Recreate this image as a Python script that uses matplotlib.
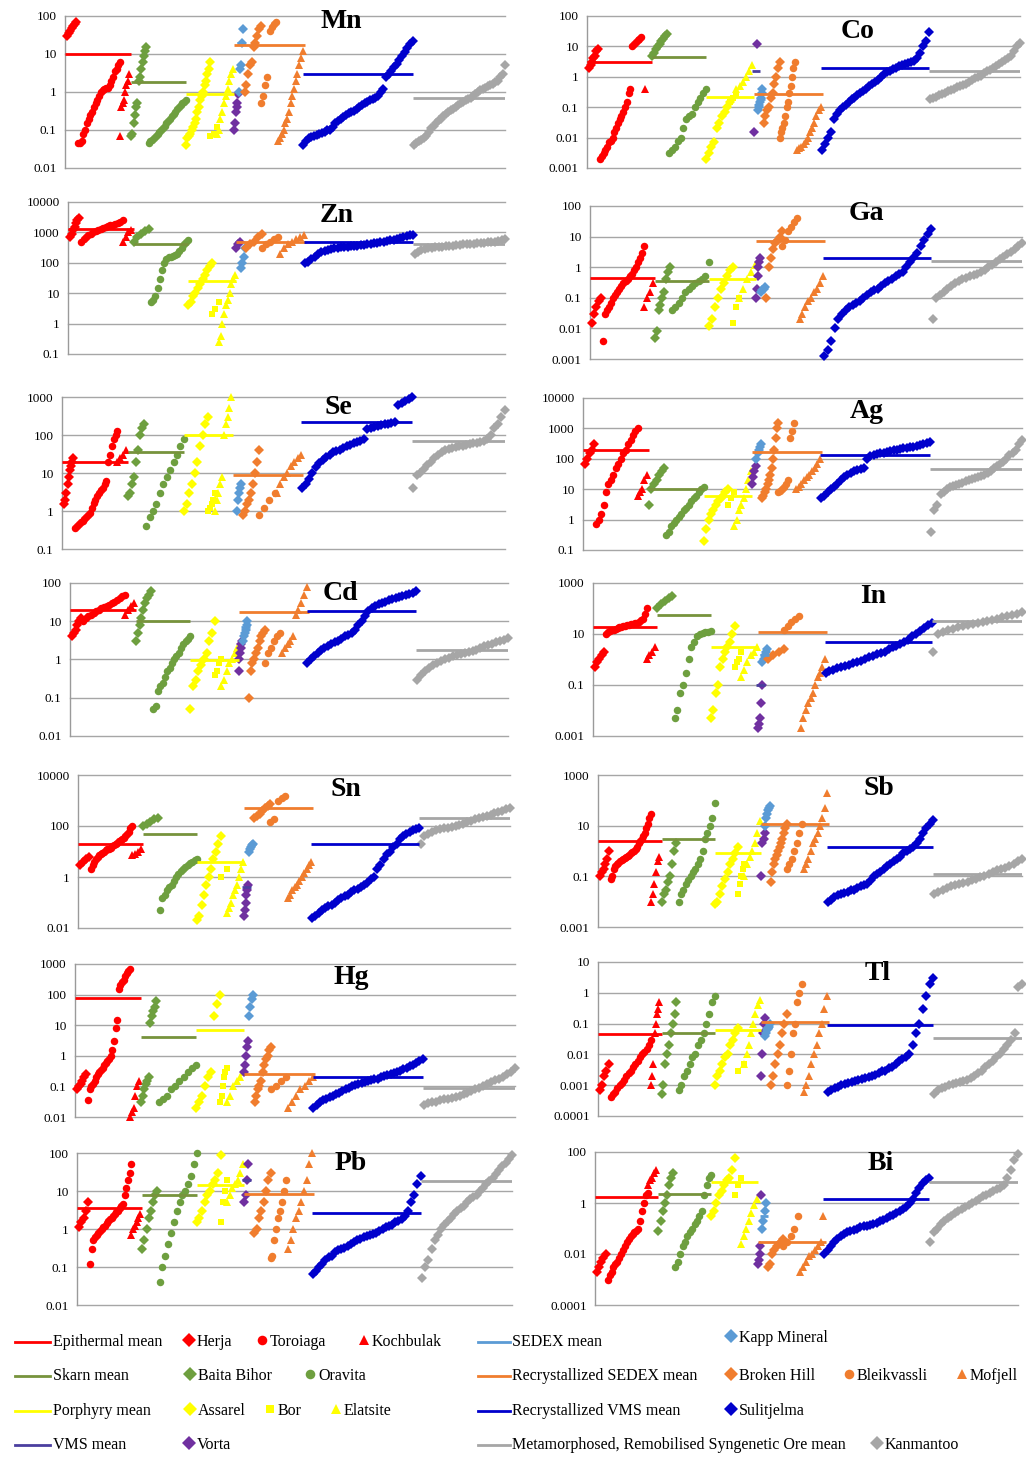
import numpy as np
import matplotlib.pyplot as plt

plt.rcParams['font.family'] = ['Liberation Serif', 'DejaVu Serif']

W, H = 1026, 1458

# deposits in plotting order, each sorted ascending inside its own x-span
deposits = ['Herja', 'Toroiaga', 'Kochbulak', 'Baita Bihor', 'Oravita',
            'Assarel', 'Bor', 'Elatsite', 'Vorta', 'Kapp Mineral',
            'Broken Hill', 'Bleikvassli', 'Mofjell', 'Sulitjelma', 'Kanmantoo']

groups = ['Epithermal mean', 'Skarn mean', 'Porphyry mean', 'VMS mean', 'SEDEX mean',
          'Recrystallized SEDEX mean', 'Recrystallized VMS mean',
          'Metamorphosed, Remobilised Syngenetic Ore mean']

# ---------------- values per element ----------------
mn = {
    'Herja': [30, 35, 40, 48, 55, 62, 70],
    'Toroiaga': [0.045, 0.045, 0.05, 0.08, 0.1, 0.15, 0.2, 0.25, 0.3, 0.4, 0.5, 0.6, 0.8, 1.0,
                 1.1, 1.2, 1.3, 1.3, 1.5, 2, 2.5, 3.5, 4, 5, 6],
    'Kochbulak': [0.07, 0.4, 0.5, 0.6, 1, 1.5, 2, 3],
    'Baita Bihor': [0.07, 0.08, 0.15, 0.25, 0.4, 0.5, 2, 2.5, 4, 6, 9, 12, 15],
    'Oravita': [0.045, 0.05, 0.055, 0.06, 0.07, 0.08, 0.09, 0.1, 0.11, 0.13, 0.15, 0.17, 0.2,
                0.23, 0.26, 0.3, 0.35, 0.4, 0.45, 0.5, 0.55, 0.6],
    'Assarel': [0.04, 0.06, 0.07, 0.08, 0.1, 0.12, 0.15, 0.2, 0.3, 0.4, 0.6, 0.8, 1, 1.5, 2, 3, 4, 6],
    'Bor': [0.07, 0.08, 0.12],
    'Elatsite': [0.08, 0.1, 0.2, 0.3, 0.5, 0.8, 1.2, 2, 3, 4],
    'Vorta': [0.1, 0.15, 0.3, 0.4, 0.5, 0.9],
    'Kapp Mineral': [1, 4, 5, 20, 45],
    'Broken Hill': [1.0, 1.5, 3, 5, 6, 15, 20, 30, 45, 55],
    'Bleikvassli': [0.5, 0.8, 1.5, 2.5, 40, 50, 60, 70],
    'Mofjell': [0.05, 0.06, 0.08, 0.1, 0.15, 0.2, 0.3, 0.5, 0.8, 1.2, 2, 3, 5, 8, 12],
    'Sulitjelma': [0.04, 0.05, 0.06, 0.065, 0.07, 0.075, 0.08, 0.085, 0.09, 0.1, 0.1, 0.12, 0.15,
                   0.17, 0.2, 0.22, 0.25, 0.28, 0.3, 0.32, 0.35, 0.4, 0.45, 0.5, 0.55, 0.6, 0.65,
                   0.7, 0.8, 1.0, 1.2, 2.5, 3, 3.5, 4.5, 5.5, 7, 9, 11, 14, 18, 22],
    'Kanmantoo': [0.04, 0.045, 0.05, 0.055, 0.06, 0.07, 0.09, 0.11, 0.13, 0.15, 0.18, 0.2, 0.23,
                  0.26, 0.3, 0.33, 0.36, 0.4, 0.45, 0.5, 0.55, 0.6, 0.65, 0.7, 0.8, 0.9, 1.0, 1.1,
                  1.2, 1.3, 1.4, 1.5, 1.6, 1.8, 2, 2.5, 3, 5],
}
mn_means = [10, 1.8, 0.9, None, 20, 17, 3, 0.7]

co = {
    'Herja': [2, 2.5, 3, 4, 5, 7, 8],
    'Toroiaga': [0.002, 0.0025, 0.003, 0.004, 0.005, 0.007, 0.008, 0.01, 0.015, 0.02, 0.03, 0.04,
                 0.05, 0.07, 0.1, 0.15, 0.3, 0.4, 10, 12, 14, 16, 18, 20],
    'Kochbulak': [0.4],
    'Baita Bihor': [5, 6, 8, 10, 12, 15, 18, 22, 25],
    'Oravita': [0.003, 0.004, 0.005, 0.008, 0.01, 0.02, 0.04, 0.05, 0.06, 0.1, 0.15, 0.2, 0.3, 0.4],
    'Assarel': [0.002, 0.003, 0.005, 0.007, 0.02, 0.03, 0.05, 0.07, 0.1, 0.15],
    'Bor': [0.15, 0.2, 0.25],
    'Elatsite': [0.4, 0.5, 0.7, 1, 1.5, 2.5],
    'Vorta': [0.015, 12],
    'Kapp Mineral': [0.08, 0.1, 0.12, 0.15, 0.2, 0.3, 0.4],
    'Broken Hill': [0.03, 0.05, 0.08, 0.1, 0.2, 0.3, 0.6, 1, 2, 3],
    'Bleikvassli': [0.01, 0.015, 0.02, 0.03, 0.05, 0.1, 0.15, 0.3, 0.5, 1, 2, 3],
    'Mofjell': [0.004, 0.0045, 0.005, 0.006, 0.008, 0.01, 0.015, 0.02, 0.03, 0.05, 0.08, 0.1],
    'Sulitjelma': [0.004, 0.006, 0.01, 0.015, 0.04, 0.06, 0.08, 0.1, 0.12, 0.15, 0.18, 0.2, 0.25,
                   0.3, 0.35, 0.4, 0.5, 0.6, 0.7, 0.8, 1.0, 1.2, 1.4, 1.6, 1.8, 2.0, 2.2, 2.4,
                   2.6, 2.8, 3.0, 3.2, 4, 6, 10, 15, 30],
    'Kanmantoo': [0.18, 0.2, 0.22, 0.25, 0.28, 0.3, 0.33, 0.37, 0.4, 0.45, 0.5, 0.55, 0.6, 0.7,
                  0.8, 0.9, 1.0, 1.1, 1.3, 1.5, 1.7, 2, 2.3, 2.7, 3, 3.5, 4, 5, 7, 10, 13],
}
co_means = [3, 4.5, 0.22, 1.5, 0.18, 0.28, 2, 1.5]

zn = {
    'Herja': [700, 900, 1200, 1500, 2000, 2500, 3000],
    'Toroiaga': [500, 600, 700, 800, 900, 1000, 1100, 1200, 1300, 1400, 1500, 1600, 1700, 1800,
                 1900, 2000, 2200, 2500],
    'Kochbulak': [500, 700, 1000, 1200],
    'Baita Bihor': [500, 700, 900, 1100, 1300],
    'Oravita': [5, 6, 8, 15, 30, 60, 100, 130, 150, 160, 170, 180, 200, 250, 300, 400, 500, 550],
    'Assarel': [4, 5, 8, 10, 15, 20, 30, 40, 60, 80, 100],
    'Bor': [2, 3, 5],
    'Elatsite': [0.25, 0.4, 1, 2, 4, 6, 10, 20, 30, 40],
    'Vorta': [300, 400, 500],
    'Kapp Mineral': [70, 100, 150, 300],
    'Broken Hill': [300, 400, 500, 700, 900],
    'Bleikvassli': [300, 400, 500, 600, 700],
    'Mofjell': [200, 300, 400, 500, 600, 700, 800],
    'Sulitjelma': [100, 110, 130, 150, 200, 230, 250, 270, 280, 300, 310, 320, 330, 340, 350, 360,
                   370, 380, 390, 400, 420, 440, 460, 480, 500, 520, 550, 580, 600, 650, 700,
                   750, 800, 850],
    'Kanmantoo': [200, 230, 260, 280, 300, 310, 320, 330, 340, 350, 360, 370, 380, 390, 400, 410,
                  420, 430, 440, 450, 460, 470, 480, 500, 520, 550, 600],
}
zn_means = [1300, 400, 25, None, None, 500, 500, 420]

ga = {
    'Herja': [0.015, 0.03, 0.05, 0.08, 0.1],
    'Toroiaga': [0.004, 0.03, 0.04, 0.05, 0.07, 0.1, 0.12, 0.15, 0.2, 0.25, 0.3, 0.35, 0.4, 0.5,
                 0.6, 0.8, 1, 1.5, 2, 3, 5],
    'Kochbulak': [0.05, 0.1, 0.15, 0.3],
    'Baita Bihor': [0.005, 0.008, 0.04, 0.06, 0.1, 0.15, 0.4, 0.7, 1.0],
    'Oravita': [0.04, 0.05, 0.07, 0.1, 0.15, 0.2, 0.25, 0.3, 0.35, 0.4, 0.5, 1.5],
    'Assarel': [0.012, 0.02, 0.05, 0.1, 0.2, 0.3, 0.5, 0.8, 1],
    'Bor': [0.015, 0.05, 0.1],
    'Elatsite': [0.1, 0.2, 0.4, 0.7, 1.2],
    'Vorta': [0.1, 0.2, 0.5, 1, 1.5, 2],
    'Kapp Mineral': [0.15, 0.18, 0.2, 0.22],
    'Broken Hill': [0.1, 1, 2, 4, 6, 8, 10, 15],
    'Bleikvassli': [5, 8, 15, 20, 30, 40],
    'Mofjell': [0.02, 0.03, 0.05, 0.08, 0.1, 0.15, 0.2, 0.3, 0.5],
    'Sulitjelma': [0.0013, 0.002, 0.004, 0.01, 0.02, 0.03, 0.04, 0.05, 0.06, 0.07, 0.08, 0.1, 0.12,
                   0.15, 0.18, 0.2, 0.25, 0.3, 0.35, 0.4, 0.5, 0.6, 0.7, 1, 1.5, 2, 3, 5, 8, 12, 18],
    'Kanmantoo': [0.02, 0.1, 0.12, 0.15, 0.2, 0.25, 0.3, 0.35, 0.4, 0.45, 0.5, 0.55, 0.6, 0.7, 0.8,
                  1.0, 1.2, 1.5, 1.8, 2.2, 2.7, 3.2, 4, 5, 6],
}
ga_means = [0.45, 0.35, 0.42, None, None, 7, 2, 1.6]

se = {
    'Herja': [1.5, 2, 3, 5, 8, 12, 15, 20, 25],
    'Toroiaga': [0.35, 0.4, 0.45, 0.5, 0.55, 0.6, 0.7, 0.8, 0.9, 1.2, 1.6, 2, 2.5, 3, 3.5, 4, 5, 6,
                 20, 30, 50, 80, 100, 130],
    'Kochbulak': [20, 25, 30, 40],
    'Baita Bihor': [2.5, 3, 5, 8, 20, 40, 100, 150, 200],
    'Oravita': [0.4, 0.7, 1, 1.5, 3, 5, 8, 12, 20, 30, 50, 80],
    'Assarel': [1, 1.5, 3, 5, 10, 20, 50, 100, 200, 300],
    'Bor': [1, 1.2, 1.5, 2, 3],
    'Elatsite': [1, 2, 3, 5, 8, 100, 200, 300, 500, 1000],
    'Vorta': [],
    'Kapp Mineral': [1, 2, 3, 4, 5],
    'Broken Hill': [0.8, 1, 1.5, 2, 3, 5, 10, 20, 40],
    'Bleikvassli': [0.8, 1.2, 2, 3],
    'Mofjell': [3, 5, 8, 10, 15, 20, 25, 30],
    'Sulitjelma': [4, 5, 7, 10, 14, 18, 22, 26, 30, 35, 38, 40, 45, 50, 55, 60, 65, 70, 80, 140,
                   150, 160, 170, 180, 190, 200, 210, 220, 600, 700, 800, 900, 1000],
    'Kanmantoo': [4, 9, 10, 13, 16, 20, 25, 30, 35, 40, 42, 45, 48, 50, 52, 55, 58, 60, 62, 65, 70,
                  80, 100, 150, 200, 300, 450],
}
se_means = [20, 35, 100, None, None, 9, 220, 70]

ag = {
    'Herja': [70, 100, 150, 200, 300],
    'Toroiaga': [0.7, 1, 1.5, 3, 8, 15, 20, 30, 50, 70, 100, 150, 200, 300, 400, 600, 800, 1000],
    'Kochbulak': [6, 8, 10, 20, 30],
    'Baita Bihor': [3, 10, 15, 20, 30, 40, 50],
    'Oravita': [0.3, 0.4, 0.6, 0.8, 1, 1.2, 1.5, 2, 2.5, 3, 4, 5, 6, 8, 10, 12],
    'Assarel': [0.2, 0.5, 1, 1.5, 2, 3, 4, 5, 6, 8, 10],
    'Bor': [3, 5, 8],
    'Elatsite': [0.6, 1, 2, 3, 5, 10, 20, 40],
    'Vorta': [15, 25, 40, 60],
    'Kapp Mineral': [100, 150, 200, 250, 300],
    'Broken Hill': [5, 6, 8, 10, 15, 20, 30, 50, 100, 200, 500, 1000, 1500],
    'Bleikvassli': [8, 9, 10, 12, 15, 20, 500, 800, 1500],
    'Mofjell': [10, 12, 15, 20, 25, 30, 40, 50, 70, 100],
    'Sulitjelma': [5, 6, 8, 10, 12, 15, 20, 25, 30, 35, 40, 42, 45, 50, 100, 120, 130, 140, 150,
                   160, 170, 180, 190, 200, 210, 220, 230, 240, 250, 260, 280, 300, 320, 350],
    'Kanmantoo': [0.4, 2, 3, 7, 8, 10, 12, 13, 14, 15, 16, 18, 20, 22, 24, 26, 28, 30, 35, 40, 50,
                  60, 70, 80, 100, 130, 160, 200, 300, 400],
}
ag_means = [200, 10, 6, None, None, 170, 130, 45]

cd = {
    'Herja': [4, 5, 6, 8, 10, 12],
    'Toroiaga': [10, 12, 14, 15, 16, 18, 20, 22, 24, 25, 27, 30, 32, 35, 40, 45, 50],
    'Kochbulak': [15, 20, 25, 30],
    'Baita Bihor': [3, 5, 8, 12, 20, 30, 40, 50, 60],
    'Oravita': [0.05, 0.06, 0.15, 0.2, 0.25, 0.35, 0.5, 0.6, 0.8, 1, 1.2, 1.5, 2, 2.5, 3, 3.5, 4],
    'Assarel': [0.05, 0.2, 0.3, 0.5, 0.7, 1, 1.5, 3, 5, 10],
    'Bor': [0.4, 0.5, 0.8, 1],
    'Elatsite': [0.2, 0.3, 0.5, 0.8, 1, 1.5, 2],
    'Vorta': [0.5, 1, 1.5, 2, 2.5, 3],
    'Kapp Mineral': [3, 4, 5, 6, 8, 10],
    'Broken Hill': [0.1, 0.5, 0.8, 1, 1.5, 2, 3, 4, 5, 6],
    'Bleikvassli': [0.8, 1.5, 2, 3, 4, 5],
    'Mofjell': [1.5, 2, 2.5, 3, 4, 15, 20, 30, 50, 80],
    'Sulitjelma': [0.8, 1, 1.2, 1.5, 1.8, 2, 2.2, 2.5, 2.8, 3, 3.5, 4, 4.5, 5, 6, 8, 10, 14, 18,
                   22, 25, 28, 30, 32, 35, 38, 40, 42, 45, 48, 52, 56, 60],
    'Kanmantoo': [0.3, 0.4, 0.5, 0.6, 0.7, 0.8, 0.9, 1.0, 1.1, 1.2, 1.3, 1.4, 1.5, 1.6, 1.7, 1.8,
                  2, 2.2, 2.4, 2.6, 2.8, 3, 3.3, 3.6],
}
cd_means = [20, 10, 0.95, None, 7, 17, 18, 1.8]

in_ = {
    'Herja': [0.5, 0.8, 1, 1.5, 2],
    'Toroiaga': [10, 12, 13, 14, 15, 16, 17, 18, 19, 20, 21, 22, 23, 24, 25, 26, 28, 30, 35, 40,
                 60, 100],
    'Kochbulak': [1, 1.5, 2, 3],
    'Baita Bihor': [100, 150, 200, 250, 300],
    'Oravita': [0.005, 0.01, 0.05, 0.1, 0.3, 1, 3, 5, 8, 10, 11, 12, 12.5, 13],
    'Assarel': [0.005, 0.01, 0.05, 0.1, 0.5, 1, 2, 3, 5, 10, 20],
    'Bor': [0.5, 0.8, 1, 2],
    'Elatsite': [0.2, 0.4, 0.8, 1.5, 2, 3],
    'Vorta': [0.002, 0.003, 0.005, 0.02, 0.1],
    'Kapp Mineral': [0.8, 1, 1.5, 2, 2.5],
    'Broken Hill': [1, 1.5, 2, 2.5],
    'Bleikvassli': [15, 20, 30, 40, 50],
    'Mofjell': [0.002, 0.005, 0.01, 0.02, 0.03, 0.05, 0.1, 0.2, 0.3, 0.5, 1],
    'Sulitjelma': [0.3, 0.35, 0.4, 0.45, 0.5, 0.55, 0.6, 0.7, 0.8, 0.9, 1, 1.2, 1.4, 1.6, 1.8, 2,
                   2.5, 3, 3.5, 4, 5, 6, 8, 10, 13, 17, 22, 28],
    'Kanmantoo': [2, 10, 12, 14, 16, 18, 20, 22, 25, 28, 30, 33, 36, 40, 45, 50, 55, 60, 70],
}
in_means = [19, 55, 3, 0.1, 1.5, 12, 5, 32]

sn = {
    'Herja': [3, 4, 5, 6],
    'Toroiaga': [2, 3, 4, 5, 6, 7, 8, 9, 10, 11, 12, 13, 14, 16, 18, 20, 22, 25, 28, 30, 35, 40,
                 50, 60, 80, 100],
    'Kochbulak': [7, 8, 10, 12],
    'Baita Bihor': [100, 120, 150, 180, 200],
    'Oravita': [0.05, 0.15, 0.2, 0.3, 0.4, 0.5, 0.7, 1, 1.3, 1.7, 2, 2.5, 3, 3.5, 4, 4.5, 5],
    'Assarel': [0.02, 0.03, 0.08, 0.2, 0.5, 1, 2, 5, 10, 20, 40],
    'Bor': [1, 2],
    'Elatsite': [0.04, 0.06, 0.1, 0.2, 0.3, 0.5, 1, 2, 4],
    'Vorta': [0.03, 0.05, 0.1, 0.2, 0.3, 0.5],
    'Kapp Mineral': [10, 12, 15, 18, 20],
    'Broken Hill': [200, 250, 300, 400, 500, 600, 700],
    'Bleikvassli': [150, 180, 1000, 1200, 1500],
    'Mofjell': [0.15, 0.2, 0.3, 0.4, 0.5, 0.7, 1, 1.5, 2, 3, 4],
    'Sulitjelma': [0.025, 0.03, 0.04, 0.05, 0.06, 0.07, 0.08, 0.1, 0.12, 0.15, 0.18, 0.2, 0.25,
                   0.3, 0.35, 0.4, 0.5, 0.6, 0.8, 1, 2, 3, 5, 8, 10, 15, 20, 30, 40, 50, 60, 70,
                   75, 80],
    'Kanmantoo': [20, 40, 50, 60, 70, 75, 80, 85, 90, 100, 110, 120, 140, 160, 180, 200, 220, 250,
                  280, 320, 360, 400, 450, 500],
}
sn_means = [20, 50, 4, 0.4, None, 500, 20, 200]

sb = {
    'Herja': [0.1, 0.15, 0.2, 0.3, 0.5, 1],
    'Toroiaga': [0.08, 0.1, 0.2, 0.25, 0.3, 0.35, 0.4, 0.45, 0.5, 0.55, 0.6, 0.65, 0.7, 0.8, 0.9,
                 1, 1.2, 1.5, 2, 2.5, 3, 4, 5, 8, 12, 20, 30],
    'Kochbulak': [0.01, 0.02, 0.05, 0.15, 0.4, 0.6],
    'Baita Bihor': [0.01, 0.02, 0.03, 0.06, 0.1, 0.3, 1, 2],
    'Oravita': [0.01, 0.02, 0.03, 0.05, 0.07, 0.1, 0.15, 0.2, 0.3, 0.5, 1, 3, 5, 10, 20, 80],
    'Assarel': [0.008, 0.01, 0.02, 0.04, 0.08, 0.15, 0.3, 0.5, 0.8, 1.5],
    'Bor': [0.02, 0.05, 0.1, 0.2, 0.3],
    'Elatsite': [0.1, 0.3, 0.6, 1, 2, 5, 15],
    'Vorta': [0.1, 2, 3, 5],
    'Kapp Mineral': [10, 20, 30, 40, 50, 60],
    'Broken Hill': [0.06, 0.15, 0.3, 0.5, 0.7, 1, 1.5, 2, 3, 5, 8, 12],
    'Bleikvassli': [0.2, 0.3, 0.5, 1, 2, 5, 12],
    'Mofjell': [0.2, 0.3, 0.5, 1, 2, 3, 5, 10, 20, 50, 200],
    'Sulitjelma': [0.01, 0.012, 0.015, 0.018, 0.02, 0.022, 0.025, 0.028, 0.03, 0.035, 0.04, 0.045,
                   0.05, 0.07, 0.1, 0.12, 0.15, 0.2, 0.25, 0.3, 0.4, 0.5, 0.6, 0.8, 1, 1.2, 1.5,
                   2, 3, 5, 8, 12, 16],
    'Kanmantoo': [0.02, 0.025, 0.03, 0.035, 0.04, 0.045, 0.05, 0.055, 0.06, 0.07, 0.08, 0.09, 0.1,
                  0.12, 0.15, 0.17, 0.2, 0.22, 0.25, 0.3, 0.4, 0.5],
}
sb_means = [2.5, 3, 0.8, None, None, 12, 1.4, 0.12]

hg = {
    'Herja': [0.08, 0.1, 0.12, 0.15, 0.2, 0.25],
    'Toroiaga': [0.035, 0.08, 0.1, 0.12, 0.15, 0.2, 0.25, 0.3, 0.35, 0.4, 0.5, 0.6, 0.7, 0.8, 1,
                 1.5, 3, 8, 15, 150, 200, 250, 300, 400, 500, 600, 700],
    'Kochbulak': [0.01, 0.015, 0.02, 0.05, 0.1, 0.15],
    'Baita Bihor': [0.03, 0.05, 0.08, 0.12, 0.15, 0.2, 12, 20, 30, 40, 60],
    'Oravita': [0.03, 0.04, 0.05, 0.08, 0.1, 0.15, 0.2, 0.3, 0.4, 0.5],
    'Assarel': [0.02, 0.03, 0.05, 0.1, 0.2, 0.3, 20, 50, 100],
    'Bor': [0.03, 0.05, 0.1, 0.2, 0.3, 0.4],
    'Elatsite': [0.03, 0.05, 0.1, 0.15, 0.2, 0.3],
    'Vorta': [0.3, 0.5, 1, 2, 3],
    'Kapp Mineral': [20, 40, 70, 100],
    'Broken Hill': [0.03, 0.05, 0.08, 0.1, 0.15, 0.3, 0.5, 0.8, 1, 1.5, 2],
    'Bleikvassli': [0.08, 0.1, 0.15, 0.2],
    'Mofjell': [0.02, 0.03, 0.05, 0.08, 0.1, 0.15, 0.2],
    'Sulitjelma': [0.02, 0.025, 0.03, 0.035, 0.04, 0.045, 0.05, 0.055, 0.06, 0.07, 0.08, 0.09, 0.1,
                   0.11, 0.12, 0.13, 0.14, 0.15, 0.16, 0.17, 0.18, 0.2, 0.22, 0.24, 0.26, 0.28,
                   0.3, 0.33, 0.36, 0.4, 0.45, 0.5, 0.6, 0.7, 0.8],
    'Kanmantoo': [0.025, 0.028, 0.03, 0.032, 0.035, 0.038, 0.04, 0.042, 0.045, 0.05, 0.055, 0.06,
                  0.07, 0.08, 0.09, 0.1, 0.12, 0.14, 0.16, 0.18, 0.2, 0.25, 0.3, 0.4],
}
hg_means = [80, 4, 7, None, None, 0.25, 0.2, 0.09]

tl = {
    'Herja': [0.0007, 0.001, 0.002, 0.003, 0.005],
    'Toroiaga': [0.0004, 0.0005, 0.0006, 0.0008, 0.001, 0.0012, 0.0015, 0.002, 0.0025, 0.003,
                 0.004, 0.005, 0.006, 0.008, 0.01, 0.012, 0.015, 0.02, 0.03],
    'Kochbulak': [0.001, 0.002, 0.005, 0.05, 0.1, 0.2, 0.3, 0.5],
    'Baita Bihor': [0.0005, 0.001, 0.005, 0.01, 0.02, 0.05, 0.1, 0.2, 0.5],
    'Oravita': [0.0007, 0.001, 0.002, 0.003, 0.005, 0.008, 0.01, 0.02, 0.03, 0.05, 0.1, 0.2, 0.5,
                0.8],
    'Assarel': [0.001, 0.002, 0.003, 0.005, 0.008, 0.01, 0.02, 0.03, 0.05, 0.07],
    'Bor': [0.003, 0.005],
    'Elatsite': [0.005, 0.01, 0.02, 0.05, 0.1, 0.2, 0.4, 0.6],
    'Vorta': [0.002, 0.01, 0.05, 0.1, 0.15],
    'Kapp Mineral': [0.04, 0.05, 0.06, 0.07, 0.08, 0.1],
    'Broken Hill': [0.001, 0.002, 0.005, 0.01, 0.02, 0.05, 0.1, 0.2],
    'Bleikvassli': [0.001, 0.003, 0.01, 0.05, 0.1, 0.5, 1, 2],
    'Mofjell': [0.0006, 0.001, 0.002, 0.005, 0.01, 0.02, 0.05, 0.1, 0.3, 0.8],
    'Sulitjelma': [0.0006, 0.0007, 0.0008, 0.0009, 0.001, 0.0011, 0.0012, 0.0013, 0.0014, 0.0015,
                   0.0016, 0.0017, 0.0018, 0.002, 0.0022, 0.0025, 0.0028, 0.003, 0.0035, 0.004,
                   0.005, 0.006, 0.007, 0.008, 0.01, 0.02, 0.05, 0.1, 0.3, 0.8, 2, 3],
    'Kanmantoo': [0.0005, 0.0007, 0.0008, 0.0009, 0.001, 0.0011, 0.0012, 0.0013, 0.0014, 0.0015,
                  0.0017, 0.002, 0.0025, 0.003, 0.004, 0.005, 0.006, 0.008, 0.01, 0.015, 0.02,
                  0.03, 0.05, 1.5, 2],
}
tl_means = [0.045, 0.05, 0.06, None, 0.07, 0.11, 0.09, 0.035]

pb = {
    'Herja': [1.1, 1.5, 2, 3, 5],
    'Toroiaga': [0.12, 0.3, 0.5, 0.6, 0.7, 0.8, 0.9, 1, 1.1, 1.2, 1.4, 1.6, 1.8, 2, 2.2, 2.5, 2.8,
                 3, 3.5, 4, 4.5, 8, 12, 20, 30, 50],
    'Kochbulak': [0.7, 1, 1.2, 1.5, 2, 2.5],
    'Baita Bihor': [0.3, 0.5, 1, 2, 3, 5, 8, 10],
    'Oravita': [0.04, 0.1, 0.2, 0.4, 0.8, 1.5, 3, 5, 8, 10, 15, 25, 50, 100],
    'Assarel': [1.5, 2, 3, 5, 8, 10, 15, 20, 30, 90],
    'Bor': [1.5, 5, 10, 20],
    'Elatsite': [5, 8, 12, 15, 20, 30, 50],
    'Vorta': [5, 8, 20, 50],
    'Kapp Mineral': [],
    'Broken Hill': [0.8, 1, 2, 3, 5, 10, 20, 30],
    'Bleikvassli': [0.17, 0.2, 0.5, 1, 2, 3, 5, 10, 20],
    'Mofjell': [0.3, 0.5, 1, 2, 3, 5, 10, 20, 50, 100],
    'Sulitjelma': [0.065, 0.08, 0.1, 0.12, 0.15, 0.18, 0.2, 0.25, 0.28, 0.3, 0.32, 0.35, 0.4, 0.45,
                   0.5, 0.55, 0.6, 0.65, 0.7, 0.75, 0.8, 0.9, 1.0, 1.1, 1.2, 1.3, 1.5, 1.6, 1.8,
                   2.2, 3, 5, 8, 15, 25],
    'Kanmantoo': [0.05, 0.1, 0.15, 0.3, 0.5, 0.7, 1, 1.3, 1.6, 2, 2.5, 3, 3.5, 4, 5, 6, 7, 8, 10,
                  12, 15, 18, 22, 28, 35, 45, 55, 70, 90],
}
pb_means = [3.6, 8, 14, 20, None, 8.5, 2.6, 18]

bi = {
    'Herja': [0.002, 0.003, 0.005, 0.007, 0.01],
    'Toroiaga': [0.001, 0.0015, 0.002, 0.003, 0.004, 0.005, 0.007, 0.01, 0.015, 0.02, 0.03, 0.04,
                 0.05, 0.06, 0.07, 0.08, 0.1, 0.2, 0.5, 1, 2, 2.5],
    'Kochbulak': [5, 8, 10, 15, 20],
    'Baita Bihor': [0.08, 0.2, 0.5, 1, 2, 5, 10, 15],
    'Oravita': [0.003, 0.005, 0.01, 0.02, 0.03, 0.05, 0.07, 0.1, 0.15, 0.2, 0.3, 0.5, 2, 5, 10, 12],
    'Assarel': [0.3, 0.5, 1, 2, 3, 5, 8, 10, 20, 60],
    'Bor': [2, 5, 10],
    'Elatsite': [0.025, 0.05, 0.1, 0.2, 0.4, 0.8, 1.5],
    'Vorta': [0.004, 0.006, 0.01, 0.02, 2],
    'Kapp Mineral': [0.1, 0.2, 0.5, 1],
    'Broken Hill': [0.003, 0.004, 0.01, 0.015, 0.02, 0.025, 0.03, 0.04],
    'Bleikvassli': [0.02, 0.03, 0.05, 0.1, 0.3],
    'Mofjell': [0.002, 0.003, 0.005, 0.008, 0.01, 0.015, 0.02, 0.03, 0.3],
    'Sulitjelma': [0.01, 0.015, 0.02, 0.03, 0.04, 0.05, 0.06, 0.07, 0.08, 0.09, 0.1, 0.11, 0.12,
                   0.13, 0.14, 0.15, 0.17, 0.2, 0.22, 0.25, 0.3, 0.35, 0.4, 0.5, 0.6, 0.7, 1, 1.5,
                   2.5, 4, 6, 8, 10],
    'Kanmantoo': [0.03, 0.07, 0.1, 0.15, 0.2, 0.25, 0.3, 0.4, 0.5, 0.6, 0.7, 0.8, 1, 1.2, 1.5, 1.8,
                  2, 2.5, 3, 3.5, 4, 5, 10, 20, 50, 80],
}
bi_means = [1.7, 2.2, 6.5, None, 0.3, 0.03, 1.4, 6.5]

# ---------------- layout and styles ----------------
# x-span of each deposit on the sample axis (0..100)
dep_span = {
    'Herja': (0.5, 2.5), 'Toroiaga': (3, 12.5), 'Kochbulak': (12.5, 14.5),
    'Baita Bihor': (15, 18.5), 'Oravita': (19, 27.5),
    'Assarel': (27.5, 33), 'Bor': (33, 34.5), 'Elatsite': (34.5, 38.2),
    'Vorta': (38.5, 39.3), 'Kapp Mineral': (39.5, 40.5),
    'Broken Hill': (40.8, 44.5), 'Bleikvassli': (44.5, 48), 'Mofjell': (48.5, 54),
    'Sulitjelma': (54.2, 79), 'Kanmantoo': (79.3, 100),
}
grp_span = [(0, 15), (15, 27.5), (27.5, 38.5), (38, 40), (39, 41), (38.5, 54.5), (54, 79), (79, 100)]

RED, GREEN, YEL = '#FF0000', '#6E9F3F', '#FFFF00'
PURP, LBLUE, ORNG = '#7030A0', '#5B9BD5', '#F07D2E'
BLUE, GREY = '#0000CC', '#A6A6A6'

dep_style = {
    'Herja': (RED, 'D'), 'Toroiaga': (RED, 'o'), 'Kochbulak': (RED, '^'),
    'Baita Bihor': (GREEN, 'D'), 'Oravita': (GREEN, 'o'),
    'Assarel': (YEL, 'D'), 'Bor': (YEL, 's'), 'Elatsite': (YEL, '^'),
    'Vorta': (PURP, 'D'), 'Kapp Mineral': (LBLUE, 'D'),
    'Broken Hill': (ORNG, 'D'), 'Bleikvassli': (ORNG, 'o'), 'Mofjell': (ORNG, '^'),
    'Sulitjelma': (BLUE, 'D'), 'Kanmantoo': (GREY, 'D'),
}
msize = {'D': 5.2, 'o': 5.4, '^': 5.6, 's': 4.8}
grp_color = [RED, '#77933C', YEL, '#4B3F9F', LBLUE, ORNG, BLUE, GREY]

# element, values, means, (lo, hi) decades, tick step, axes box px (l, t, r, b), label px
panels = [
    ('Mn', mn, mn_means, (-2, 2), 1, (65, 16, 505, 168), (341, 22)),
    ('Co', co, co_means, (-3, 2), 1, (587, 16, 1020, 168), (858, 32)),
    ('Zn', zn, zn_means, (-1, 4), 1, (68, 202, 505, 354), (337, 216)),
    ('Ga', ga, ga_means, (-3, 2), 1, (590, 206, 1022, 359), (866, 214)),
    ('Se', se, se_means, (-1, 3), 1, (62, 397, 505, 549), (338, 407)),
    ('Ag', ag, ag_means, (-1, 4), 1, (583, 398, 1022, 550), (867, 412)),
    ('Cd', cd, cd_means, (-2, 2), 1, (70, 583, 508, 736), (340, 594)),
    ('In', in_, in_means, (-3, 3), 2, (593, 583, 1022, 736), (873, 597)),
    ('Sn', sn, sn_means, (-2, 4), 2, (78, 775, 510, 928), (346, 790)),
    ('Sb', sb, sb_means, (-3, 3), 2, (598, 775, 1022, 927), (879, 788)),
    ('Hg', hg, hg_means, (-2, 3), 1, (75, 964, 515, 1117), (351, 978)),
    ('Tl', tl, tl_means, (-4, 1), 1, (598, 962, 1022, 1116), (878, 973)),
    ('Pb', pb, pb_means, (-2, 2), 1, (77, 1153, 512, 1305), (351, 1164)),
    ('Bi', bi, bi_means, (-4, 2), 2, (595, 1152, 1018, 1305), (881, 1164)),
]

fig = plt.figure(figsize=(W / 100, H / 100), dpi=100)

for name, vals, means, (lo, hi), step, (l, t, r, b), (tx, ty) in panels:
    ax = fig.add_axes([l / W, 1 - b / H, (r - l) / W, (b - t) / H])
    ax.set_yscale('log')
    ax.set_ylim(10.0 ** lo, 10.0 ** hi)
    ax.set_xlim(0, 100)
    ticks = [10.0 ** e for e in range(lo, hi + 1, step)]
    ax.set_yticks(ticks)
    ax.set_yticklabels([f'{v:g}' for v in ticks])
    ax.yaxis.set_minor_locator(plt.NullLocator())
    ax.set_xticks([])
    ax.tick_params(axis='y', length=0, pad=6, labelsize=9.5)
    for v in ticks:
        ax.axhline(v, color='#A6A6A6', lw=1.0, zorder=1, clip_on=False)
    for s in ['top', 'right', 'bottom']:
        ax.spines[s].set_visible(False)
    ax.spines['left'].set_color('#9A9A9A')
    ax.spines['left'].set_linewidth(1.0)

    for dep in deposits:
        y = vals[dep]
        if not y:
            continue
        a, bb = dep_span[dep]
        x = np.linspace(a, bb, len(y)) if len(y) > 1 else [(a + bb) / 2]
        c, m = dep_style[dep]
        ax.plot(x, y, ls='none', marker=m, ms=msize[m], color=c, mew=0, zorder=3, clip_on=False)

    for (a, bb), mval, c in zip(grp_span, means, grp_color):
        if mval is None:
            continue
        ax.plot([a, bb], [mval, mval], color=c, lw=2.0, zorder=4, solid_capstyle='butt')

    ax.text((tx - l) / (r - l), 1 - (ty - t) / (b - t), name, transform=ax.transAxes,
            ha='center', va='center', fontsize=20, fontweight='bold')

# ---------------- legend ----------------
leg = fig.add_axes([0, 0, 1, 1], zorder=-1)
leg.set_xlim(0, W)
leg.set_ylim(H, 0)
leg.axis('off')

rows = [1342, 1376, 1411, 1445]
lsize = 11.5

left_lines = [('Epithermal mean', RED), ('Skarn mean', '#77933C'),
              ('Porphyry mean', YEL), ('VMS mean', '#4B3F9F')]
right_lines = [('SEDEX mean', LBLUE), ('Recrystallized SEDEX mean', ORNG),
               ('Recrystallized VMS mean', BLUE),
               ('Metamorphosed, Remobilised Syngenetic Ore mean', GREY)]
for (lab, c), y in zip(left_lines, rows):
    leg.plot([15, 50], [y, y], color=c, lw=2)
    leg.text(53, y, lab, va='center', ha='left', fontsize=lsize)
for (lab, c), y in zip(right_lines, rows):
    leg.plot([478, 510], [y, y], color=c, lw=2)
    leg.text(512, y, lab, va='center', ha='left', fontsize=lsize)

marker_entries = [
    ('Herja', 189, 0), ('Toroiaga', 262, 0), ('Kochbulak', 364, 0),
    ('Baita Bihor', 190, 1), ('Oravita', 310, 1),
    ('Assarel', 190, 2), ('Bor', 270, 2), ('Elatsite', 336, 2),
    ('Vorta', 189, 3),
    ('Kapp Mineral', 731, 0), ('Broken Hill', 731, 1), ('Bleikvassli', 849, 1),
    ('Mofjell', 962, 1), ('Sulitjelma', 731, 2), ('Kanmantoo', 877, 3),
]
for dep, x, r_ in marker_entries:
    c, m = dep_style[dep]
    y = rows[r_] - (4 if dep == 'Kapp Mineral' else 0) - 2
    leg.plot([x], [y], ls='none', marker=m, ms=msize[m] + 1.5, color=c, mew=0)
    leg.text(x + 8, y + 2, dep, va='center', ha='left', fontsize=lsize)

fig.savefig('out.png', dpi=100)
